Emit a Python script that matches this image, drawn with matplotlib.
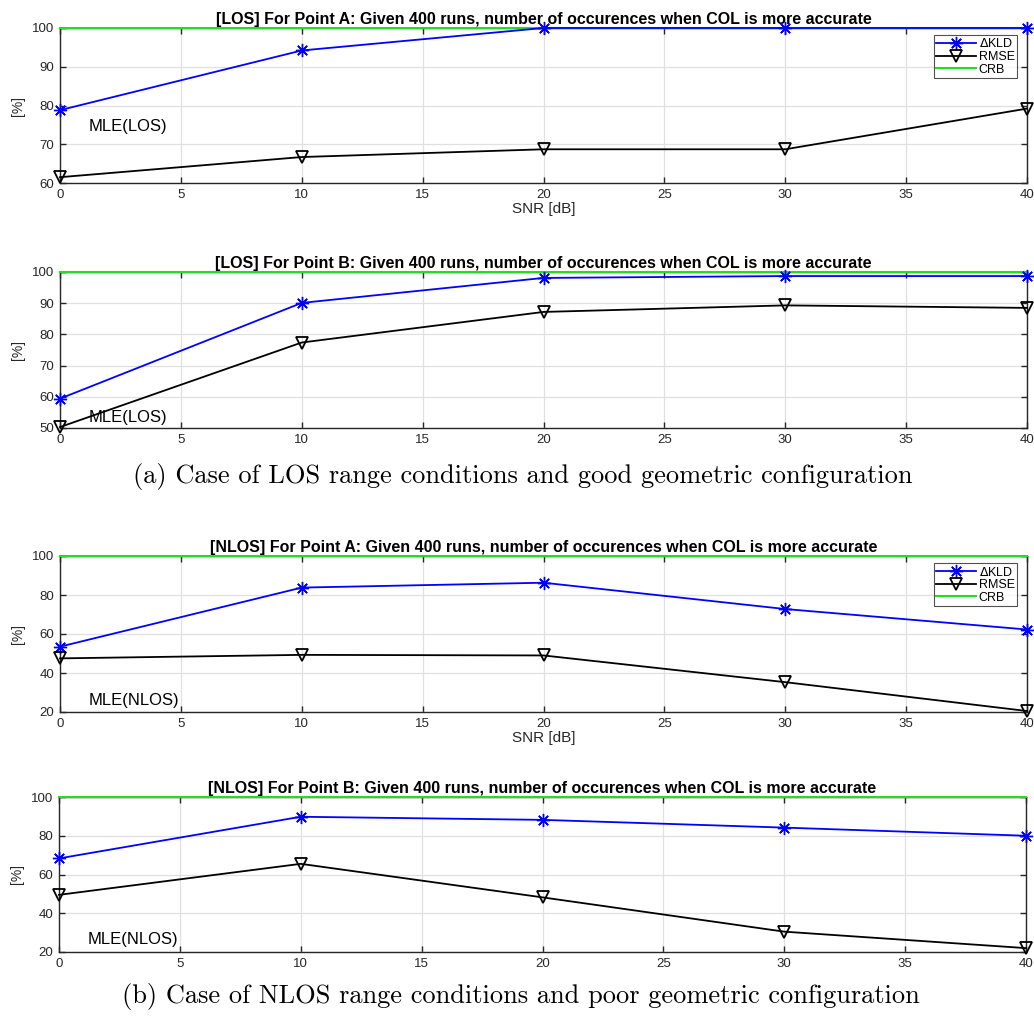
import matplotlib
matplotlib.use("Agg")
import matplotlib.pyplot as plt

snr = [0, 10, 20, 30, 40]

# percentage of runs where COL is more accurate
kld_los_a = [78.8, 94.2, 100.0, 100.0, 100.0]
rmse_los_a = [61.5, 66.7, 68.7, 68.7, 79.2]
kld_los_b = [59.4, 90.1, 98.1, 98.7, 98.7]
rmse_los_b = [50.3, 77.4, 87.2, 89.3, 88.5]
kld_nlos_a = [53.5, 83.8, 86.3, 72.8, 62.3]
rmse_nlos_a = [47.5, 49.3, 49.0, 35.3, 20.5]
kld_nlos_b = [68.3, 89.8, 88.2, 84.2, 80.0]
rmse_nlos_b = [49.5, 65.5, 48.2, 30.5, 22.0]
crb = [100, 100, 100, 100, 100]

titles = [
    "[LOS] For Point A: Given 400 runs, number of occurences when COL is more accurate",
    "[LOS] For Point B: Given 400 runs, number of occurences when COL is more accurate",
    "[NLOS] For Point A: Given 400 runs, number of occurences when COL is more accurate",
    "[NLOS] For Point B: Given 400 runs, number of occurences when COL is more accurate",
]
captions = [
    "(a) Case of LOS range conditions and good geometric configuration",
    "(b) Case of NLOS range conditions and poor geometric configuration",
]

plt.rcParams['font.family'] = ['Liberation Sans', 'DejaVu Sans']

fig = plt.figure(figsize=(10.34, 10.17), dpi=100)
W, H = 1034.0, 1017.0

# pixel boxes (left, top, right, bottom)
boxes = [(60, 28, 1027, 183), (60, 272, 1027, 428),
         (60, 556, 1027, 712), (59, 797, 1026, 952)]
panels = [
    (kld_los_a, rmse_los_a, (60, 100), [60, 70, 80, 90, 100], "MLE(LOS)", 74.5, True, True),
    (kld_los_b, rmse_los_b, (50, 100), [50, 60, 70, 80, 90, 100], "MLE(LOS)", 53.5, False, False),
    (kld_nlos_a, rmse_nlos_a, (20, 100), [20, 40, 60, 80, 100], "MLE(NLOS)", 26.0, True, True),
    (kld_nlos_b, rmse_nlos_b, (20, 100), [20, 40, 60, 80, 100], "MLE(NLOS)", 26.5, False, False),
]

# MATLAB-style '*' marker: 8 spokes
asterisk = (8, 2, 0)
for (l, t, r, b), title, (kld, rmse, ylim, yt, lbl, ly, xl, leg) in zip(boxes, titles, panels):
    ax = fig.add_axes([l / W, 1 - b / H, (r - l) / W, (b - t) / H])
    ax.plot(snr, kld, color='blue', lw=1.3, marker=asterisk, ms=9.5, mew=1.0,
            label=r'$\Delta$KLD', clip_on=False, zorder=4)
    ax.plot(snr, rmse, color='black', lw=1.3, marker='v', ms=8.5, mew=1.3,
            mfc='none', label='RMSE', clip_on=False, zorder=4)
    ax.plot(snr, crb, color='#22dd22', lw=1.5, label='CRB', clip_on=False, zorder=3)
    ax.set_xlim(0, 40)
    ax.set_ylim(*ylim)
    ax.set_yticks(yt)
    ax.set_xticks(range(0, 41, 5))
    ax.grid(True, color='#e0e0e0', lw=0.9)
    ax.set_axisbelow(True)
    ax.tick_params(direction='in', top=True, right=True, length=4.5, width=1.0,
                   labelsize=9.5, colors='#262626', pad=4)
    for s in ax.spines.values():
        s.set_color('#262626')
        s.set_linewidth(1.0)
    ax.set_title(title, fontsize=11.5, fontweight='bold', pad=3)
    ax.set_ylabel('[%]', fontsize=10, color='#262626', labelpad=5)
    if xl:
        ax.set_xlabel('SNR [dB]', fontsize=11, color='#262626', labelpad=1)
    ax.text(1.2, ly, lbl, fontsize=12, va='center', ha='left', zorder=5)
    if leg:
        lg = ax.legend(loc='upper right', bbox_to_anchor=(0.99, 0.955), fontsize=9,
                       frameon=True, fancybox=False, edgecolor='#262626',
                       borderpad=0.2, labelspacing=0.05, handlelength=3.2,
                       handletextpad=0.2, borderaxespad=0)
        lg.get_frame().set_linewidth(0.8)

fig.text(523 / W, 1 - 476 / H, captions[0], ha='center', va='center',
         family='cmr10', fontsize=19)
fig.text(521 / W, 1 - 997 / H, captions[1], ha='center', va='center',
         family='cmr10', fontsize=19)

fig.savefig('out.png', dpi=100)
